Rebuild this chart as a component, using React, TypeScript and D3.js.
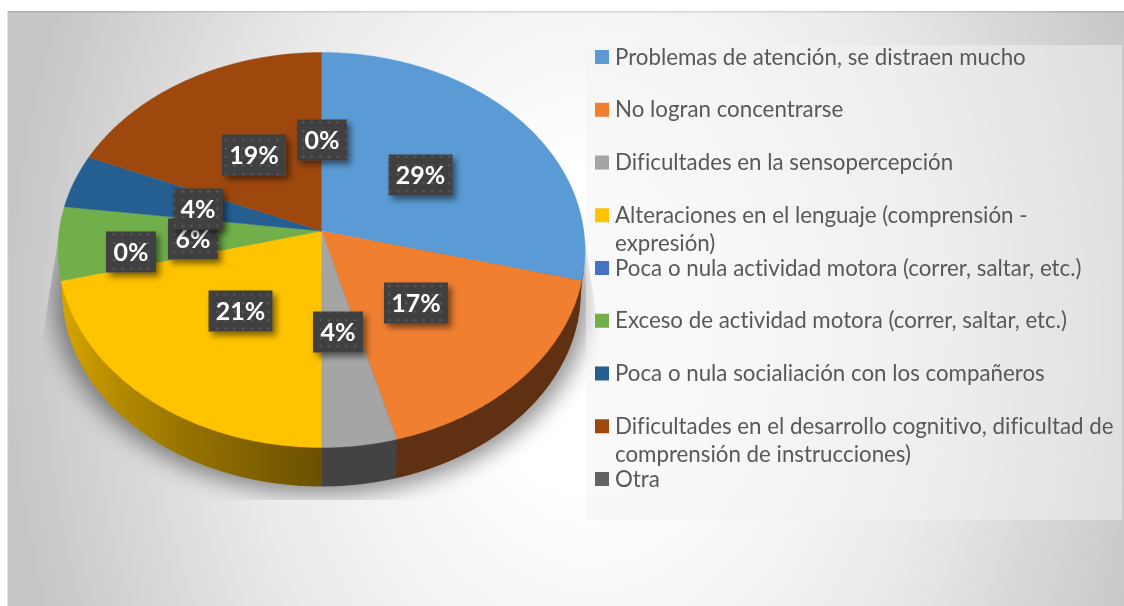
import React from "react";
import * as d3 from "d3";

const categories = [
  "Problemas de atención, se distraen mucho",
  "No logran concentrarse",
  "Dificultades en la sensopercepción",
  "Alteraciones en el lenguaje (comprensión -\nexpresión)",
  "Poca o nula actividad motora (correr, saltar, etc.)",
  "Exceso de actividad motora (correr, saltar, etc.)",
  "Poca o nula socialiación con los compañeros",
  "Dificultades en el desarrollo cognitivo, dificultad de\ncomprensión de instrucciones)",
  "Otra",
];
const values = [29, 16.8, 4.2, 21, 0, 6, 4.4, 18.6, 0];
const percentLabels = ["29%", "17%", "4%", "21%", "0%", "6%", "4%", "19%", "0%"];
const topColors = ["#5B9BD5", "#F07F30", "#A5A5A5", "#FFC300", "#4472C4", "#71AF4A", "#255E91", "#9E480E", "#636363"];
const wallColors = ["#5F3112", "#5F3112", "#434343", "url(#yellowWall)", "url(#yellowWall)", "url(#yellowWall)", "#5F3112", "#5F3112", "#434343"];
// Hand-placed data label centres in the reference (layout, not data); drawn in this order.
const labelCentres: [number, number][] = [
  [420.5, 175], [416, 303], [338, 332], [240.5, 311], [131, 252], [193, 239], [198, 209], [254, 155], [322, 140],
];
const labelOrder = [5, 6, 0, 1, 3, 7, 8, 4, 2];

const W = 1124, H = 606;
const cx = 321.5, cy = 231, R = 262.3, Ry = 195.7, k = -0.0962;
const wallShrink = 0.982, wallDrop = 42, ellipseCy = 250;

function topPoint(theta: number, r = 1): [number, number] {
  const Y = -Math.cos(theta) * r;
  const X = Math.sin(theta) * r;
  const w = 1 + k * Y;
  return [cx + (R * X) / w, cy + (Ry * Y) / w];
}
function bottomPoint(theta: number): [number, number] {
  const [x, y] = topPoint(theta);
  return [cx + (x - cx) * wallShrink, ellipseCy + wallDrop + (y - ellipseCy) * wallShrink];
}
const arcs = d3.pie<number>().sort(null).value((d) => d)(values);
const line = d3.line<[number, number]>();
const samples = (a: number, b: number) => {
  const n = Math.max(2, Math.ceil((b - a) / 0.01));
  return d3.range(n + 1).map((i) => a + ((b - a) * i) / n);
};
const facePath = (a: number, b: number) =>
  line([[cx, cy], ...samples(a, b).map((t) => topPoint(t))])! + "Z";
const wallPath = (a: number, b: number) =>
  line([...samples(a, b).map((t) => topPoint(t)), ...samples(a, b).reverse().map(bottomPoint)])! + "Z";
// The floor of a slice, so that the wall silhouette is closed past the rim.
const floorPath = (a: number, b: number) =>
  line([[cx, ellipseCy + wallDrop + (cy - ellipseCy) * wallShrink], ...samples(a, b).map(bottomPoint)])! + "Z";

const rowY = d3.scaleLinear().domain([0, 8]).range([57, 479]);
const lineGap = 27.8;
const visible = arcs.map((a, i) => ({ a, i })).filter((d) => d.a.endAngle > d.a.startAngle);

export default function App() {
  return (
    <svg width={W} height={H} viewBox={`0 0 ${W} ${H}`} style={{ position: "absolute", left: 0, top: 0, display: "block" }}>
      <defs>
        <radialGradient id="bg" gradientUnits="userSpaceOnUse" cx={0} cy={0} r={1}
          gradientTransform="translate(590 330) scale(585 800)">
          <stop offset="0" stopColor="#FFFFFF" />
          <stop offset="0.2" stopColor="#FFFFFF" />
          <stop offset="0.6" stopColor="#EAEAEA" />
          <stop offset="1" stopColor="#C6C6C6" />
        </radialGradient>
        <linearGradient id="yellowWall" gradientUnits="userSpaceOnUse" x1={62} x2={321} y1={0} y2={0}>
          <stop offset="0" stopColor="#D6A500" />
          <stop offset="0.2" stopColor="#B68C00" />
          <stop offset="0.5" stopColor="#947100" />
          <stop offset="1" stopColor="#6B5000" />
        </linearGradient>
        <pattern id="dots" width={8.6} height={8.6} patternUnits="userSpaceOnUse">
          <rect width={8.6} height={8.6} fill="#404040" />
          <circle cx={2.2} cy={2.2} r={1.2} fill="#5A5A5A" />
        </pattern>
        <filter id="blur" x="-20%" y="-20%" width="140%" height="140%">
          <feGaussianBlur stdDeviation={11} />
        </filter>
        <filter id="boxShadow" x="-30%" y="-30%" width="160%" height="170%">
          <feDropShadow dx={3.5} dy={4} stdDeviation={3} floodColor="#000000" floodOpacity={0.5} />
        </filter>
        <filter id="soft" x="-2%" y="-2%" width="104%" height="104%">
          <feGaussianBlur stdDeviation={0.35} />
        </filter>
        <clipPath id="shadowClip">
          <path d="M58 240 L42 340 L42 500 L592 500 L600 340 L585 240 Z" />
        </clipPath>
        <clipPath id="frontOnly">
          <rect x={0} y={272} width={W} height={H - 272} />
        </clipPath>
      </defs>

      <rect x={7} y={11} width={W - 7} height={H - 11} fill="url(#bg)" />
      <rect x={7} y={11} width={W - 7} height={1.5} fill="#000" opacity={0.12} />
      <rect x={7} y={11} width={1.2} height={H - 11} fill="#fff" opacity={0.5} />

      <g clipPath="url(#shadowClip)">
        <ellipse cx={cx} cy={298} rx={268} ry={196} fill="#000" opacity={0.42} filter="url(#blur)" />
      </g>

      <rect x={586} y={45} width={536} height={475} fill="#F3F3F3" opacity={0.49} />

      <g clipPath="url(#frontOnly)">
        {visible.map(({ a, i }) => (
          <g key={i}>
            <path d={floorPath(a.startAngle, a.endAngle)} fill={wallColors[i]} stroke={wallColors[i]} strokeWidth={0.5} />
            <path d={wallPath(a.startAngle, a.endAngle)} fill={wallColors[i]} stroke={wallColors[i]} strokeWidth={0.5} />
          </g>
        ))}
      </g>
      <g>
        {visible.map(({ a, i }) => (
          <path key={i} d={facePath(a.startAngle, a.endAngle)} fill={topColors[i]} stroke={topColors[i]} strokeWidth={0.4} />
        ))}
      </g>

      <g>
        {labelOrder.map((i) => {
          const [x, y] = labelCentres[i];
          const w = percentLabels[i].length > 2 ? 64 : 50;
          return (
            <g key={i}>
              <rect x={x - w / 2} y={y - 20.5} width={w} height={41} fill="url(#dots)" filter="url(#boxShadow)" />
              <text x={x} y={y + 9} textAnchor="middle" fill="#FFFFFF" filter="url(#soft)"
                style={{ fontFamily: "Lato", fontWeight: 700, fontSize: 25, fontVariantLigatures: "none" }}>
                {percentLabels[i]}
              </text>
            </g>
          );
        })}
      </g>

      <g>
        {categories.map((c, i) => (
          <g key={i}>
            <rect x={595} y={rowY(i) - 7} width={14} height={14} fill={topColors[i]} />
            {c.split("\n").map((t, j) => (
              <text key={j} x={615} y={rowY(i) + 7.5 + j * lineGap} fill="#595959" filter="url(#soft)"
                style={{ fontFamily: "Lato", fontSize: 22.3, fontVariantLigatures: "none" }}>
                {t}
              </text>
            ))}
          </g>
        ))}
      </g>
    </svg>
  );
}
